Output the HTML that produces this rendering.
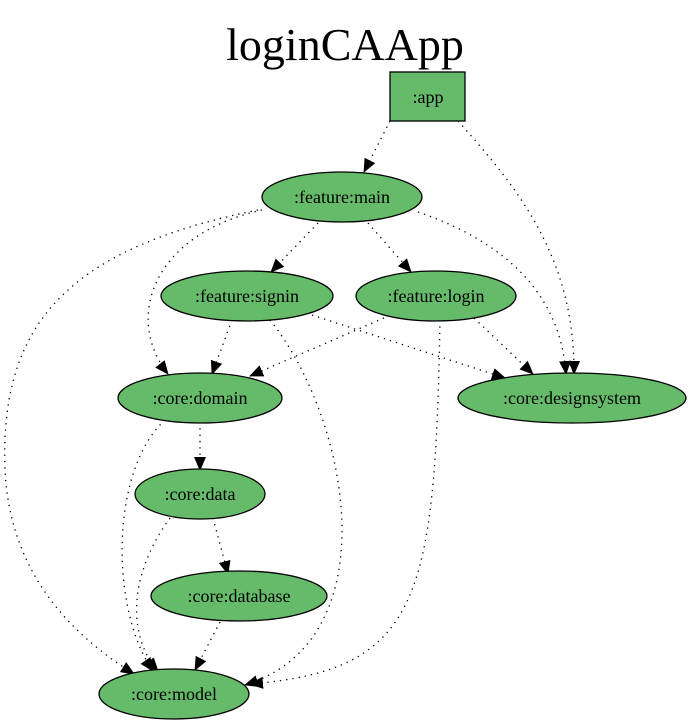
<!DOCTYPE html>
<html><head><meta charset="utf-8"><style>
html,body{margin:0;padding:0;background:#fff;}
svg{display:block;}
text{font-family:"Liberation Serif",serif;}
</style></head><body>
<svg width="689" height="727" viewBox="0 0 689 727" xmlns="http://www.w3.org/2000/svg">
<defs>
<marker id="a" markerWidth="14" markerHeight="12" refX="13" refY="6" orient="auto" markerUnits="userSpaceOnUse" viewBox="0 0 14 12">
<path d="M0,0 L14,6 L0,12 Z" fill="#000"/>
</marker>
</defs>
<rect width="689" height="727" fill="#fff"/>
<text x="345" y="60" font-size="46" text-anchor="middle">loginCAApp</text>
<g fill="none" stroke="#000" stroke-width="1.3" stroke-dasharray="1.3,5" marker-end="url(#a)">
<path d="M390,121 L364,172"/>
<path d="M458,121 C520,190 575,260 574,374"/>
<path d="M318,223 L271,272"/>
<path d="M368,223 L411,272"/>
<path d="M418,212 C500,240 560,290 566,374"/>
<path d="M262,210 C150,235 125,320 168,374"/>
<path d="M258,210 C60,250 0,330 5,470 C10,580 80,640 134,674"/>
<path d="M232,320 L212,374"/>
<path d="M312,315 L505,378"/>
<path d="M270,320 C350,420 390,640 245,685"/>
<path d="M384,318 L250,376"/>
<path d="M474,318 L533,374"/>
<path d="M440,320 C435,600 420,670 250,684"/>
<path d="M200,422 L200,470"/>
<path d="M165,420 C110,470 110,610 153,671"/>
<path d="M213,518 L228,574"/>
<path d="M170,518 C125,580 130,640 158,671"/>
<path d="M220,622 L195,670"/>
</g>
<g fill="#66bb6a" stroke="#000" stroke-width="1.3">
<rect x="390" y="72" width="75" height="49"/>
<ellipse cx="342" cy="197" rx="80" ry="25"/>
<ellipse cx="247" cy="296" rx="86" ry="25"/>
<ellipse cx="436" cy="296" rx="80" ry="25"/>
<ellipse cx="200" cy="398" rx="82" ry="25"/>
<ellipse cx="572" cy="398" rx="114" ry="25"/>
<ellipse cx="200" cy="494" rx="65" ry="25"/>
<ellipse cx="239" cy="596" rx="88" ry="25"/>
<ellipse cx="174" cy="694" rx="75" ry="25"/>
</g>
<g font-size="18" text-anchor="middle" fill="#000">
<text x="428" y="103">:app</text>
<text x="342" y="203">:feature:main</text>
<text x="247" y="302">:feature:signin</text>
<text x="436" y="302">:feature:login</text>
<text x="200" y="404">:core:domain</text>
<text x="572" y="404">:core:designsystem</text>
<text x="200" y="500">:core:data</text>
<text x="239" y="602">:core:database</text>
<text x="174" y="700">:core:model</text>
</g>
</svg>
</body></html>
